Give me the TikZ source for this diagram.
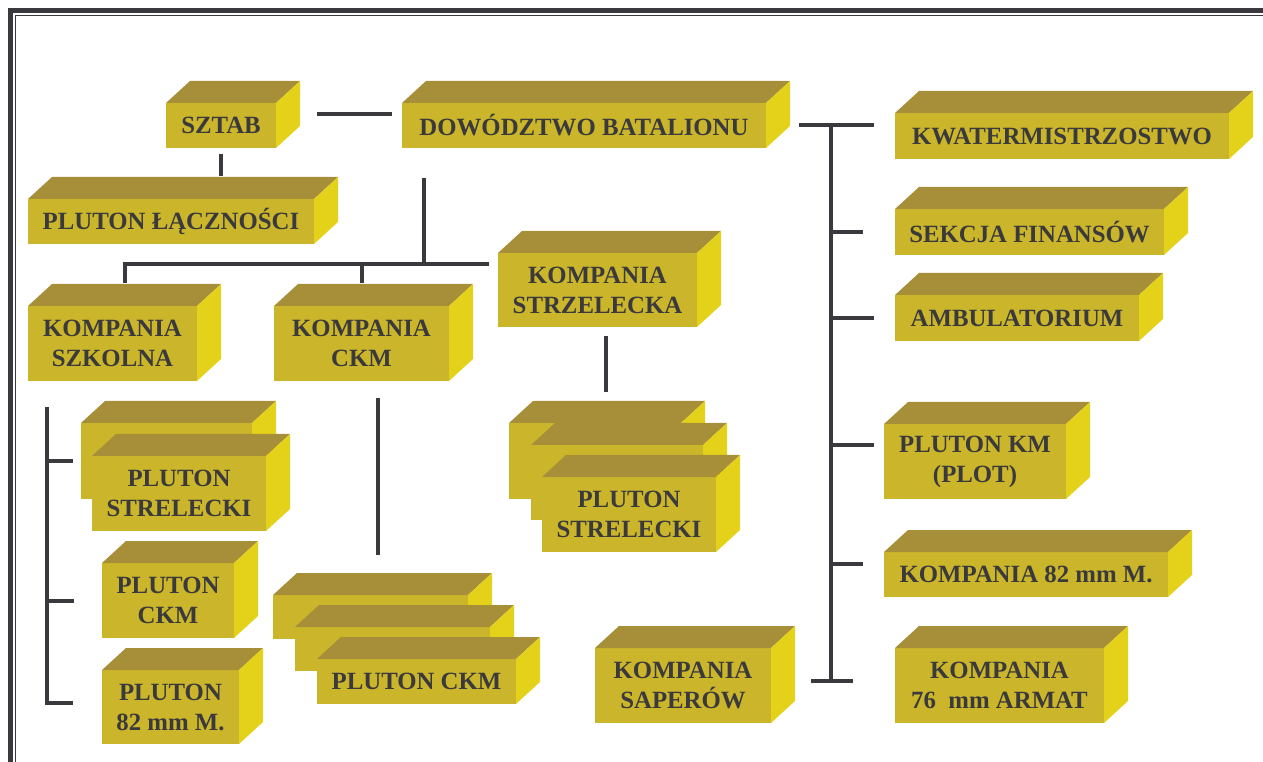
\documentclass[tikz,border=0pt]{standalone}
\usepackage{fontspec}
\setmainfont{Liberation Serif}
\usepackage{tikz}
\usetikzlibrary{calc}

\definecolor{przod}{RGB}{203,181,43}
\definecolor{wierzch}{RGB}{166,143,56}
\definecolor{bok}{RGB}{228,209,26}
\definecolor{napis}{RGB}{58,58,60}
\definecolor{ramka}{RGB}{58,58,62}

% klocek: nazwa, lewy gorny rog przodu, szerokosc, wysokosc, napis
\newcommand{\klocek}[5]{%
  \node[sciana, minimum width=#3*0.75pt, minimum height=#4*0.75pt] (#1) at (#2) {#5};
  \fill[wierzch] (#1.north west) -- ++(24,-22) -- ($(#1.north east)+(24,-22)$) -- (#1.north east) -- cycle;
  \fill[bok] (#1.north east) -- ++(24,-22) -- ($(#1.south east)+(24,-22)$) -- (#1.south east) -- cycle;
}

\begin{document}
\begin{tikzpicture}[x=0.75pt,y=0.75pt,yscale=-1,xscale=1,
  sciana/.style={fill=przod, anchor=north west, inner sep=0pt, outer sep=0pt, align=center, text=napis, font=\fontsize{18.6}{22.5}\selectfont\bfseries},
  linia/.style={draw=ramka, line width=3pt}]
\useasboundingbox (0,0) rectangle (1263,762);

%Ramka
\draw[ramka, line width=3.75pt] (10.5,762) -- (10.5,10.5) -- (1263,10.5);
\draw[ramka, line width=1.1pt] (15.5,762) -- (15.5,15.5) -- (1263,15.5);

% Dowodztwo i sztab
\klocek{sztab}{166,103}{110}{45}{SZTAB}
\klocek{dow}{402,103}{364}{45}{DOWÓDZTWO BATALIONU}
\klocek{lacz}{28,199}{286}{45}{PLUTON ŁĄCZNOŚCI}

% Kompanie
\klocek{kszk}{28,306}{169}{75}{KOMPANIA\\SZKOLNA}
\klocek{kckm}{274,306}{175}{75}{KOMPANIA\\CKM}
\klocek{kstrzel}{498,253}{199}{74}{KOMPANIA\\STRZELECKA}

% Plutony kompanii szkolnej
\klocek{strel1}{81,423}{171}{76}{}
\klocek{strel2}{92,456}{174}{75}{PLUTON\\STRELECKI}
\klocek{pckm}{102,563}{132}{75}{PLUTON\\CKM}
\klocek{p82}{102,670}{137}{74}{PLUTON\\82 mm M.}

% Plutony kompanii CKM
\klocek{ckmA}{273,595}{195}{44}{}
\klocek{ckmB}{295,627}{195}{44}{}
\klocek{ckmC}{317,659}{199}{45}{PLUTON CKM}

% Plutony kompanii strzeleckiej
\klocek{strzA}{509,423}{172}{76}{}
\klocek{strzB}{531,445}{172}{75}{}
\klocek{strzC}{542,477}{174}{75}{PLUTON\\STRELECKI}

% Pododdzialy batalionu
\klocek{kwater}{895,113}{334}{46}{KWATERMISTRZOSTWO}
\klocek{sekcja}{895,209}{269}{46}{SEKCJA FINANSÓW}
\klocek{ambul}{895,295}{244}{46}{AMBULATORIUM}
\klocek{plkm}{884,424}{182}{75}{PLUTON KM\\(PLOT)}
\klocek{k82}{884,552}{284}{45}{KOMPANIA 82 mm M.}
\klocek{saper}{595,648}{176}{75}{KOMPANIA\\SAPERÓW}
\klocek{k76}{895,648}{209}{75}{KOMPANIA\\76~~mm ARMAT}

% Polaczenia
\draw[linia] ($(sztab.east)+(41,-11.5)$) -- ($(dow.west)+(-10,-11.5)$);
\draw[linia] ($(sztab.south)+(0,6)$) -- ($(sztab.south |- lacz.north)+(0,-23)$);

\coordinate (szyna) at ($(kstrzel.west)+(-9,-26)$);
\draw[linia] ($(kszk.north)+(12,-23)$) |- (szyna);
\draw[linia] ($(dow.south west)+(22,30)$) -- ($(dow.south west |- szyna)+(22,0)$);
\draw[linia] ($(kckm.north)+(0,-23)$) -- (kckm.north |- szyna);

\draw[linia] ($(kstrzel.south)+(8,9)$) -- ($(kstrzel.south |- strzA.north)+(8,-31)$);
\draw[linia] ($(kckm.south)+(16,17)$) -- ($(kckm.south |- ckmA.north)+(16,-40)$);

\coordinate (lewa) at ($(strel1.north west)+(-34,-16)$);
\draw[linia] (lewa) |- ($(p82.west)+(-29,-4)$);
\draw[linia] (lewa |- strel1.west) -- ($(strel1.west)+(-8,0)$);
\draw[linia] (lewa |- pckm.west) -- ($(pckm.west)+(-28,0)$);

\coordinate (prawa) at ($(dow.east)+(65,0)$);
\draw[linia] ($(dow.east)+(33,0)$) -- ($(kwater.west)+(-21,-10.5)$);
\draw[linia] (prawa) -- ($(prawa |- saper.east)+(0,-5)$);
\draw[linia] ($(saper.east)+(40,-5)$) -- ($(k76.west)+(-42,-5)$);
\draw[linia] (prawa |- sekcja.west) -- ($(sekcja.west)+(-32,0)$);
\draw[linia] (prawa |- ambul.west) -- ($(ambul.west)+(-21,0)$);
\draw[linia] ($(prawa |- plkm.west)+(0,-16)$) -- ($(plkm.west)+(-10,-16)$);
\draw[linia] ($(prawa |- k82.west)+(0,-11)$) -- ($(k82.west)+(-21,-11)$);

\end{tikzpicture}
\end{document}
